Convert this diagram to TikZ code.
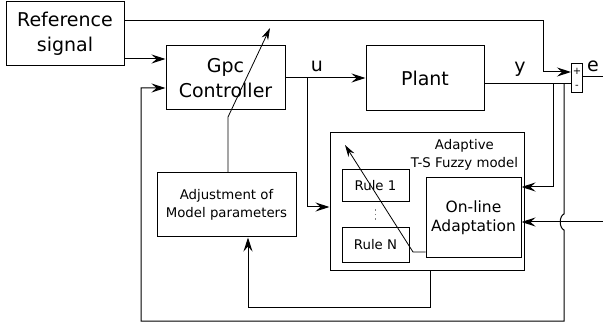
\documentclass[tikz,border=0pt]{standalone}
\usepackage{fontspec}
\setmainfont{DejaVu Sans}
\usetikzlibrary{arrows.meta}

\begin{document}
\begin{tikzpicture}[
  x=1pt, y=-1pt,
  box/.style={draw, line width=1pt, align=center, inner sep=0pt},
  big/.style={font=\fontsize{19}{25}\selectfont},
  small/.style={font=\fontsize{13.3}{18}\selectfont},
  arrow/.style={-{Stealth[length=14pt,width=9pt,inset=5pt]}, line width=1pt},
  thinarrow/.style={-{Stealth[length=12pt,width=7pt,inset=4pt]}, line width=0.8pt},
  line/.style={line width=1pt}
]
\useasboundingbox (0,0) rectangle (603,326);
\node[box,big,minimum width=118pt,minimum height=64pt](ref) at (65,34){Reference\\signal};
\node[box,big,minimum width=119pt,minimum height=64pt](gpc) at (225.5,78){Gpc\\Controller};
\node[box,big,minimum width=118pt,minimum height=65pt](plant) at (425,78.5){Plant};
\node[box,small,minimum width=139pt,minimum height=64pt](adj) at (226.5,205){Adjustment of\\Model parameters};
\node[box,minimum width=194pt,minimum height=137pt](adaptive) at (427,201.5){};
\node[small,align=center,anchor=north east](adalabel) at ([xshift=-3pt,yshift=-3pt]adaptive.north east){Adaptive\\T-S Fuzzy model};
\node[box,small,minimum width=67pt,minimum height=32pt](rule1) at (375.5,186){Rule 1};
\node[box,small,minimum width=67pt,minimum height=34pt](ruleN) at (375.5,245){Rule N};
\node[box,big,font=\fontsize{15.5}{19}\selectfont,minimum width=95pt,minimum height=79pt](online) at (473.5,217.5){On-line\\Adaptation};
\node[draw,line width=1pt,minimum width=11pt,minimum height=29pt,inner sep=0pt](sum) at (577,78.5){};
\node[font=\fontsize{10}{10}\selectfont,inner sep=0pt](plus) at (577,71){+};
\node[font=\fontsize{10}{10}\selectfont,inner sep=0pt](minus) at (577,87){-};
\node[big](ulabel) at (317,66){u};
\node[big](ylabel) at (520,69){y};
\node[big](elabel) at (593,66){e};

\coordinate (r0) at ([yshift=13pt]ref.east);
\coordinate (r1) at ([yshift=-25pt]ref.east);
\coordinate (sp) at ([yshift=6.5pt]sum.west);
\coordinate (sm) at ([yshift=-5.5pt]sum.west);
\coordinate (pout) at ([yshift=-5.5pt]plant.east);
\coordinate (ub) at (307,78);
\coordinate (yb1) at (553,84);
\coordinate (yb2) at (564,84);
\coordinate (din) at (603,222);
\coordinate (eout) at (603,76.5);
\coordinate (gin) at ([yshift=-10pt]gpc.west);
\coordinate (low) at (141,321);
\coordinate (knee) at (228,117);
\coordinate (tip) at (270,28);
\coordinate (bend) at (413,252);
\coordinate (atip) at (345,145);

\draw[arrow] (r0) -| ([xshift=-28pt]sp) -- (sp);
\draw[arrow] (r1) -- (r1 -| gpc.west);
\draw[arrow] (gpc.east) -- (gpc.east -| plant.west);
\draw[arrow] (ub) |- ([yshift=-5.5pt]adaptive.west);
\draw[line] (pout) -- (sm);
\draw[line] (sum.east |- eout) -- (eout);
\draw[arrow] (yb1) |- ([yshift=30.5pt]online.east);
\draw[arrow] (din) -- ([yshift=-4.5pt]online.east);
\draw[arrow] (yb2) -- (564,214) .. controls (559,216) and (559,228) .. (564,230) -- (low -| yb2) -| (gin -| low) -- (gin);
\draw[arrow] ([xshift=3pt]adaptive.south) |- (248,307) -- ([xshift=21.5pt]adj.south);
\draw[thinarrow] ([xshift=1.5pt]adj.north) -- (knee) -- (tip);
\draw[thinarrow] ([yshift=-34.5pt]online.west) -- (bend) -- (atip);
\draw[gray, line width=1pt, dash pattern=on 1.5pt off 3pt, shorten <=7pt, shorten >=6pt] (rule1.south) -- (ruleN.north);
\end{tikzpicture}
\end{document}
